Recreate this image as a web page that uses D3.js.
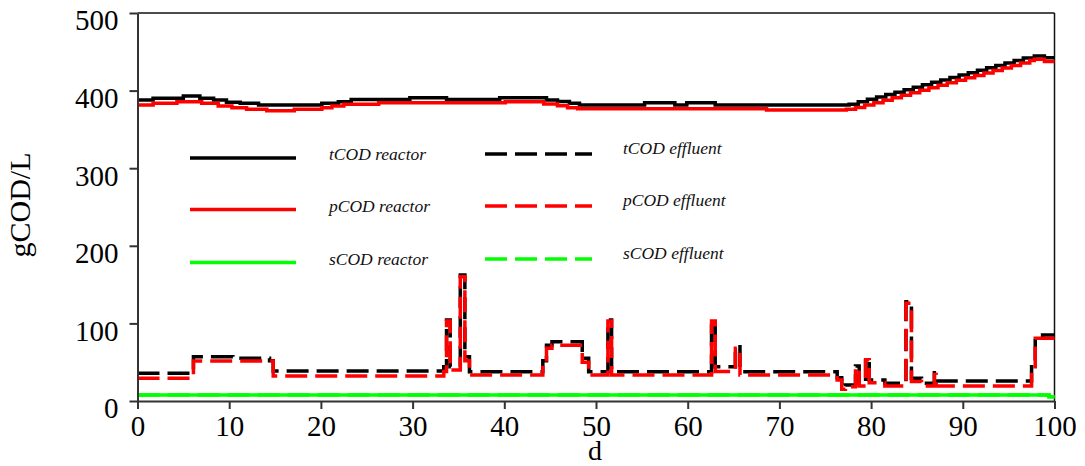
<!DOCTYPE html>
<html>
<head>
<meta charset="utf-8">
<script src="https://cdn.jsdelivr.net/npm/d3@7"></script>
<style>
  body { margin: 0; background: #fff; }
  svg { display: block; }
</style>
</head>
<body>
<div id="chart"></div>
<script>
// reactor series, [day, gCOD/L], drawn as steps
const tcodReactor = [
  [0, 388], [1.7, 390], [5.0, 393], [6.8, 390], [8.3, 388], [9.7, 385],
  [11.2, 383.7], [13.2, 381.4], [20.1, 383.7], [21.9, 385.7], [23.3, 388.6],
  [29.7, 390.7], [33.7, 388.6], [39.5, 390.7], [44.6, 388], [45.8, 385.8],
  [47.1, 383.7], [48.2, 381.4], [55.3, 384.4], [58.6, 381.4], [59.9, 384.4],
  [63.0, 381.4], [77.6, 382.5], [78.6, 385.6], [79.6, 388.7], [80.6, 391.8],
  [81.6, 394.9], [82.6, 398.0], [83.6, 401.2], [84.6, 404.3], [85.6, 407.4],
  [86.6, 410.6], [87.6, 413.7], [88.6, 416.8], [89.6, 420.0], [90.6, 423.1],
  [91.6, 426.2], [92.6, 429.3], [93.6, 432.5], [94.6, 435.6], [95.6, 438.7],
  [96.6, 441.9], [97.8, 444.6], [98.9, 442.4], [100, 442.4]
];
const pcodReactor = [
  [0, 381.4], [1.7, 383.7], [4.3, 385.7], [7.0, 383.7], [8.8, 380],
  [10.3, 378], [11.9, 375.9], [14.1, 374.1], [17.1, 375.9], [20.1, 378],
  [21.2, 380], [22.5, 382.3], [26.3, 384.4], [40.1, 385.7], [44.3, 382.7],
  [45.8, 380.6], [46.9, 378], [48.0, 376.5], [68.6, 374.9], [77.3, 376.0],
  [78.3, 378.1], [79.3, 381.3], [80.3, 384.5], [81.3, 387.7], [82.3, 390.8],
  [83.3, 394.0], [84.3, 397.2], [85.3, 400.4], [86.3, 403.6], [87.3, 406.8],
  [88.3, 410.0], [89.3, 413.2], [90.3, 416.4], [91.3, 419.6], [92.3, 422.8],
  [93.3, 426.0], [94.3, 429.2], [95.3, 432.3], [96.3, 435.5], [97.3, 438.7],
  [97.8, 440.3], [98.9, 437.5], [100, 437.5]
];
const scodReactor = [[0, 7.7], [99.4, 5.5], [100, 5.5]];

// effluent series
const tcodEffluent = [
  [0, 35.7], [6.1, 57.1], [10.4, 55], [14.4, 52], [14.8, 38.7],
  [33.4, 44.2], [33.7, 104.4], [34.1, 44.2], [35.2, 162.4], [35.7, 57], [36.2, 37.7],
  [44.2, 52], [44.6, 72], [45.2, 76.3], [48.5, 55], [49.2, 37.7],
  [51.3, 104.4], [51.7, 37.7],
  [62.6, 104.4], [63.0, 44], [65.2, 70], [65.7, 37.8],
  [76.3, 30], [76.8, 17], [77.2, 20.6], [78.3, 45.1], [78.7, 22.8], [79.4, 55],
  [79.8, 27], [81.5, 22.8], [83.8, 128], [84.4, 29.2], [85.5, 22.8],
  [86.9, 36.5], [87.1, 25.8], [97.5, 44.2], [97.9, 80.8], [98.7, 85], [100, 85]
];
const pcodEffluent = [
  [0, 29.2], [6.1, 51.5], [14.8, 32.2],
  [33.4, 38], [33.7, 103], [34.1, 40], [35.2, 160], [35.7, 52], [36.2, 33.5],
  [44.2, 48], [44.6, 68], [45.2, 72], [48.5, 50], [49.2, 33.5],
  [51.3, 103], [51.7, 33.5],
  [62.6, 103], [63.0, 38], [65.2, 68], [65.7, 33.5],
  [76.3, 27], [76.8, 15], [77.2, 18.5], [78.3, 43], [78.7, 19.3], [79.4, 53],
  [79.8, 23.5], [81.5, 19.3], [83.8, 126], [84.4, 25], [85.5, 19.3],
  [86.9, 34], [87.1, 19.3], [97.5, 42], [97.9, 80.8], [100, 80.8]
];
const scodEffluent = [[0, 7.7], [99.4, 5.5], [100, 5.5]];

const xTicks = [0, 10, 20, 30, 40, 50, 60, 70, 80, 90, 100];
const yTicks = [0, 100, 200, 300, 400, 500];

const legendReactor = ['tCOD reactor', 'pCOD reactor', 'sCOD reactor'];
const legendEffluent = ['tCOD effluent', 'pCOD effluent', 'sCOD effluent'];
const seriesColors = ['#000000', '#ff0000', '#00ff00'];

// chart geometry
const width = 1085,
  height = 466;
const serif = '"Liberation Serif", "Times New Roman", serif';

const xScale = d3.scaleLinear().domain([0, 100]).range([137.5, 1054.5]);
const yScale = d3.scaleLinear().domain([0, 500]).range([401, 13]);

const svg = d3
  .select('#chart')
  .append('svg')
  .attr('width', width)
  .attr('height', height);

// top and right frame
svg.append('line')
  .attr('x1', xScale(0)).attr('x2', xScale(100))
  .attr('y1', yScale(500)).attr('y2', yScale(500))
  .attr('stroke', '#111').attr('stroke-width', 1.5);
svg.append('line')
  .attr('x1', xScale(100)).attr('x2', xScale(100))
  .attr('y1', yScale(500)).attr('y2', yScale(0))
  .attr('stroke', '#111').attr('stroke-width', 1.5);

const stepLine = d3
  .line()
  .x((d) => xScale(d[0]))
  .y((d) => yScale(d[1]))
  .curve(d3.curveStepAfter);

// reactor lines (solid)
[tcodReactor, pcodReactor].forEach((series, i) => {
  svg.append('path')
    .datum(series)
    .attr('d', stepLine)
    .attr('fill', 'none')
    .attr('stroke', seriesColors[i])
    .attr('stroke-width', 3.5);
});

// effluent lines (dashed)
[tcodEffluent, pcodEffluent].forEach((series, i) => {
  svg.append('path')
    .datum(series)
    .attr('d', stepLine)
    .attr('fill', 'none')
    .attr('stroke', seriesColors[i])
    .attr('stroke-width', 3.5)
    .attr('stroke-dasharray', '22,8');
});

svg.append('path')
  .datum(scodReactor)
  .attr('d', stepLine)
  .attr('fill', 'none')
  .attr('stroke', seriesColors[2])
  .attr('stroke-width', 3.5);
svg.append('path')
  .datum(scodEffluent)
  .attr('d', stepLine)
  .attr('fill', 'none')
  .attr('stroke', seriesColors[2])
  .attr('stroke-width', 3.5)
  .attr('stroke-dasharray', '22,8');

// axes
const xAxis = d3.axisBottom(xScale).tickValues(xTicks).tickSize(8).tickSizeOuter(0).tickPadding(6);
const yAxis = d3.axisLeft(yScale).tickValues(yTicks).tickSize(8).tickSizeOuter(0).tickPadding(11);

const gx = svg.append('g')
  .attr('transform', `translate(0, ${yScale(0)})`)
  .call(xAxis);
const gy = svg.append('g')
  .attr('transform', `translate(${xScale(0)}, 0)`)
  .call(yAxis);

[gx, gy].forEach((g) => {
  g.attr('font-family', serif).attr('font-size', 29);
  g.select('.domain').attr('stroke', '#333').attr('stroke-width', 2);
  g.selectAll('.tick line').attr('stroke', '#333').attr('stroke-width', 2);
  g.selectAll('.tick text').attr('fill', '#000');
});
gy.selectAll('.tick text').attr('dy', '0.58em');

// axis titles
svg.append('text')
  .attr('transform', 'translate(30, 205) rotate(-90)')
  .attr('text-anchor', 'middle')
  .attr('font-family', serif)
  .attr('font-size', 30)
  .text('gCOD/L');
svg.append('text')
  .attr('x', 595)
  .attr('y', 460)
  .attr('text-anchor', 'middle')
  .attr('font-family', serif)
  .attr('font-size', 28)
  .text('d');

// legend
const reactorRows = [158, 209.5, 262.5];
const effluentRows = [154, 206, 259];
legendReactor.forEach((label, i) => {
  svg.append('line')
    .attr('x1', 190).attr('x2', 296)
    .attr('y1', reactorRows[i]).attr('y2', reactorRows[i])
    .attr('stroke', seriesColors[i]).attr('stroke-width', 3.5);
  svg.append('text')
    .attr('x', 329).attr('y', reactorRows[i] + 2)
    .attr('font-family', serif).attr('font-style', 'italic')
    .attr('font-size', 17.5).attr('fill', '#111')
    .text(label);
});
legendEffluent.forEach((label, i) => {
  svg.append('line')
    .attr('x1', 485).attr('x2', 592)
    .attr('y1', effluentRows[i]).attr('y2', effluentRows[i])
    .attr('stroke', seriesColors[i]).attr('stroke-width', 3.5)
    .attr('stroke-dasharray', '22,8');
  svg.append('text')
    .attr('x', 623).attr('y', effluentRows[i])
    .attr('font-family', serif).attr('font-style', 'italic')
    .attr('font-size', 17.5).attr('fill', '#111')
    .text(label);
});
</script>
</body>
</html>
